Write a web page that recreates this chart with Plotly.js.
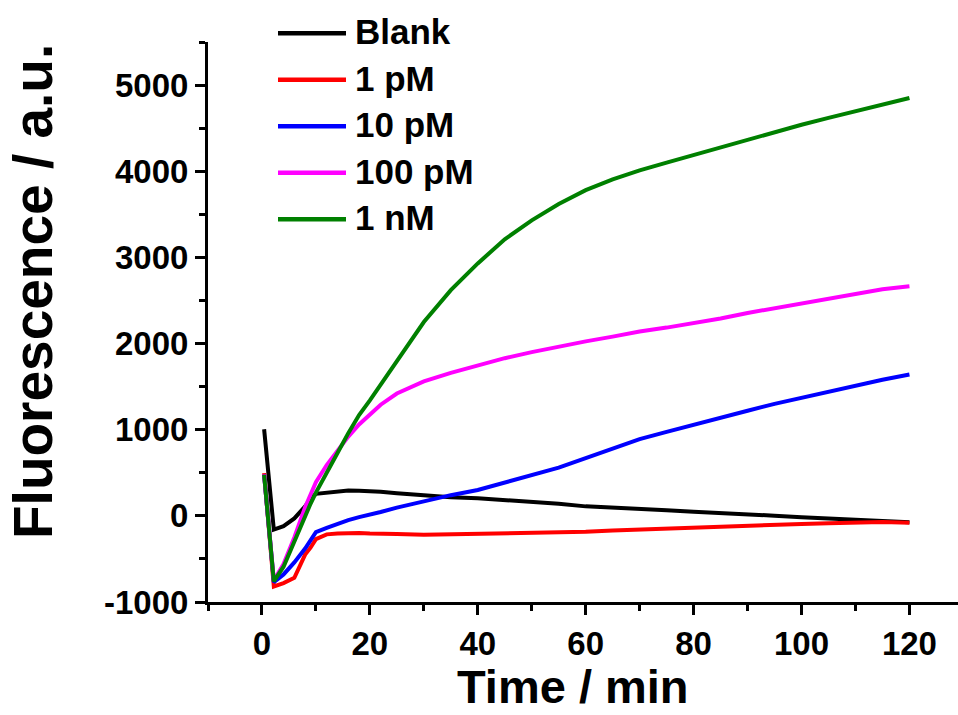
<!DOCTYPE html>
<html>
<head>
<meta charset="utf-8">
<script src="https://cdn.plot.ly/plotly-3.0.1.min.js"></script>
<style>
  html, body { margin: 0; padding: 0; background: #ffffff; }
  #chart { width: 958px; height: 715px; }
</style>
</head>
<body>
<div id="chart"></div>
<script>
// Sampling times (min)
const timeMin = [0.4, 2.2, 4, 6, 8, 9, 10, 12, 14, 16, 18, 20, 22, 25, 30, 35, 40, 45, 50, 55,
                 60, 65, 70, 75, 80, 85, 90, 95, 100, 105, 110, 115, 120];

// Fluorescence intensity (a.u.) for each sample
const blank   = [1005, -160, -120, -30, 110, 200, 255, 265, 280, 295, 290, 290, 280, 262, 235, 215,
                 205, 185, 165, 140, 110, 98, 88, 65, 48, 35, 20, 2, -17, -32, -48, -60, -75];
const pM1     = [495, -820, -780, -720, -450, -370, -270, -215, -205, -200, -200, -205, -205, -210, -220, -215,
                 -215, -205, -200, -195, -185, -170, -158, -145, -133, -125, -115, -105, -94, -85, -75, -70, -79];
const pM10    = [480, -770, -680, -540, -380, -290, -190, -140, -90, -50, -15, 10, 45, 95, 170, 240,
                 300, 385, 470, 560, 670, 780, 890, 975, 1060, 1140, 1220, 1300, 1370, 1440, 1520, 1580, 1640];
const pM100   = [480, -750, -560, -250, 100, 250, 390, 590, 760, 920, 1060, 1180, 1290, 1420, 1560, 1660,
                 1745, 1830, 1900, 1965, 2025, 2080, 2140, 2185, 2235, 2290, 2355, 2410, 2465, 2520, 2575, 2630, 2665];
const nM1     = [475, -760, -590, -290, -20, 140, 270, 490, 730, 960, 1170, 1340, 1520, 1800, 2250, 2620,
                 2930, 3210, 3430, 3620, 3780, 3905, 4010, 4100, 4190, 4275, 4365, 4450, 4540, 4620, 4700, 4775, 4850];

const seriesNames  = ['Blank', '1 pM', '10 pM', '100 pM', '1 nM'];
const seriesValues = [blank, pM1, pM10, pM100, nM1];
const seriesColors = ['#000000', '#ff0000', '#0000ff', '#ff00ff', '#008000'];

const xTickVals = [0, 20, 40, 60, 80, 100, 120];
const yTickVals = [-1000, 0, 1000, 2000, 3000, 4000, 5000];

const FONT = 'Liberation Sans, Arial, Helvetica, sans-serif';

const traces = seriesValues.map((vals, i) => ({
  type: 'scatter',
  mode: 'lines',
  x: timeMin,
  y: vals,
  name: seriesNames[i],
  line: { color: seriesColors[i], width: 4 },
  showlegend: false
}));

// Hand-built key in the upper-left corner: a short stroke plus a label per series
const keyLeft = 278, keyRight = 346, keyTextX = 353, keyTop = 33.3, keyStep = 46.5;
const plotL = 208, plotT = 42, plotW = 750, plotH = 560;
const px2x = p => (p - plotL) / plotW;
const py2y = p => (plotT + plotH - p) / plotH;

const shapes = seriesNames.map((n, i) => ({
  type: 'line', xref: 'paper', yref: 'paper',
  x0: px2x(keyLeft), x1: px2x(keyRight),
  y0: py2y(keyTop + i * keyStep), y1: py2y(keyTop + i * keyStep),
  line: { color: seriesColors[i], width: 4.5 }
}));

const annotations = seriesNames.map((n, i) => ({
  xref: 'paper', yref: 'paper',
  x: px2x(keyTextX), y: py2y(keyTop - 1.5 + i * keyStep),
  xanchor: 'left', yanchor: 'middle',
  text: n, showarrow: false,
  font: { family: FONT, size: 35, color: '#000', weight: 700 }
}));

// Axis titles
annotations.push({
  xref: 'paper', yref: 'paper',
  x: px2x(573), y: py2y(686),
  xanchor: 'center', yanchor: 'middle',
  text: 'Time / min', showarrow: false,
  font: { family: FONT, size: 47, color: '#000', weight: 700 }
});
annotations.push({
  xref: 'paper', yref: 'paper',
  x: px2x(33), y: py2y(292),
  xanchor: 'center', yanchor: 'middle', textangle: -90,
  text: 'Fluorescence / a.u.', showarrow: false,
  font: { family: FONT, size: 55, color: '#000', weight: 700 }
});

const axisCommon = {
  showline: true, linecolor: '#000', linewidth: 3,
  ticks: 'outside', ticklen: 10, tickwidth: 3, tickcolor: '#000',
  showgrid: false, zeroline: false, mirror: false,
  tickfont: { family: FONT, size: 33, color: '#000', weight: 700 }
};

const layout = {
  width: 958, height: 715,
  margin: { l: plotL, r: 958 - plotL - plotW, t: plotT, b: 715 - plotT - plotH },
  paper_bgcolor: '#ffffff', plot_bgcolor: '#ffffff',
  xaxis: Object.assign({}, axisCommon, {
    range: [-10, 129], tickvals: xTickVals, ticktext: xTickVals.map(String),
    minor: { dtick: 10, tick0: 0, ticks: 'outside', ticklen: 6, tickwidth: 3, tickcolor: '#000', showgrid: false }
  }),
  yaxis: Object.assign({}, axisCommon, {
    range: [-1000, 5500], tickvals: yTickVals, ticktext: yTickVals.map(String),
    minor: { dtick: 500, tick0: 0, ticks: 'outside', ticklen: 6, tickwidth: 3, tickcolor: '#000', showgrid: false }
  }),
  shapes: shapes,
  annotations: annotations
};

Plotly.newPlot('chart', traces, layout, { displayModeBar: false, staticPlot: true });
</script>
</body>
</html>
